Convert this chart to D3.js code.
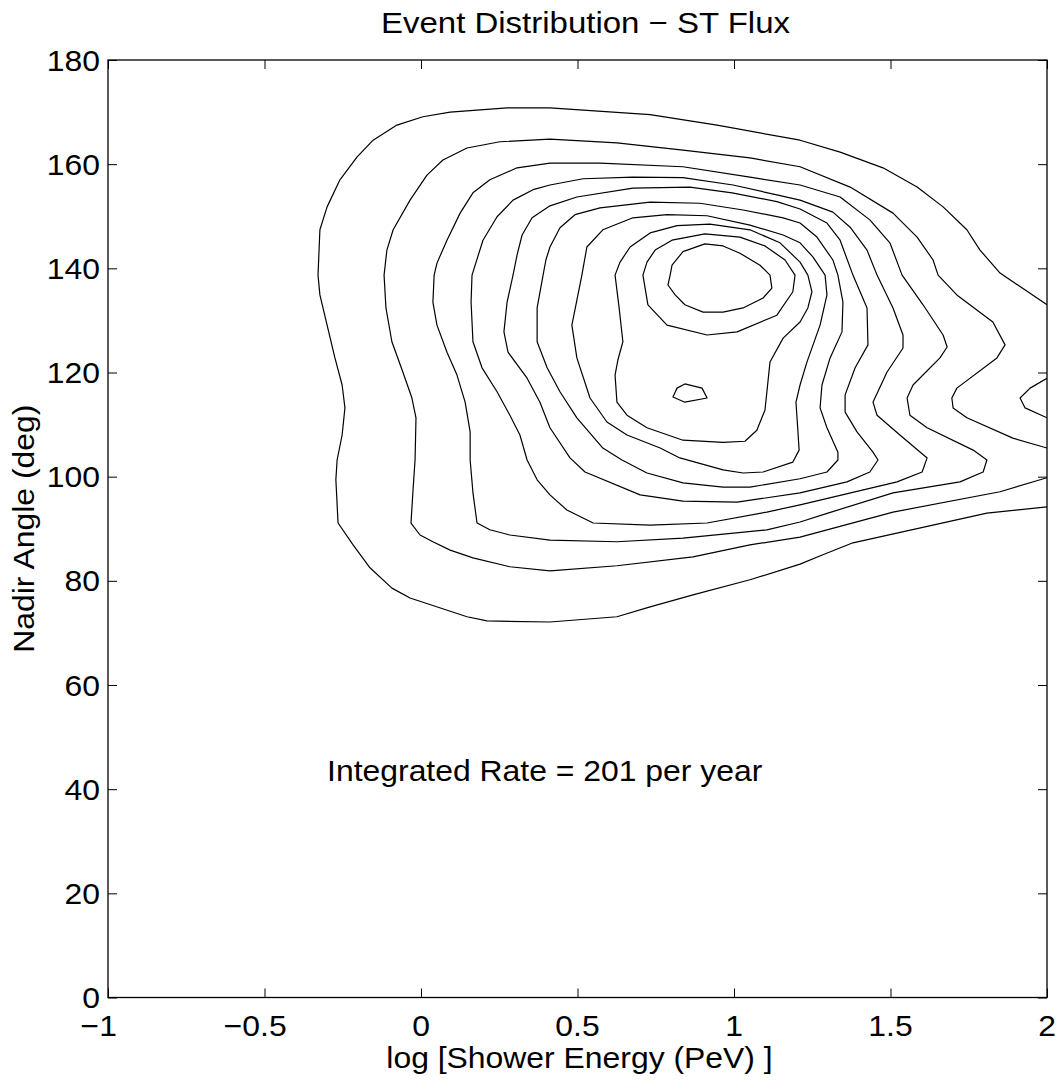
<!DOCTYPE html>
<html>
<head>
<meta charset="utf-8">
<script src="https://cdnjs.cloudflare.com/ajax/libs/d3/7.8.5/d3.min.js"></script>
<style>
  body { margin: 0; background: #fff; }
  text { font-family: "Liberation Sans", Arial, Helvetica, sans-serif; fill: #000; }
</style>
</head>
<body>
<div id="chart-area"></div>
<script>
// Event distribution contours (x = log10 shower energy in PeV, y = nadir angle in deg)

const xTicks = [-1, -0.5, 0, 0.5, 1, 1.5, 2];
const yTicks = [0, 20, 40, 60, 80, 100, 120, 140, 160, 180];

const titleText = "Event Distribution \u2212 ST Flux";
const xLabelText = "log [Shower Energy (PeV) ]";
const yLabelText = "Nadir Angle (deg)";
const noteText = "Integrated Rate = 201 per year";
const notePos = [-0.3, 41.6];

// contour levels, outermost (1) to innermost (10)
const level1 = [[2.0,133.0],[1.850,139.1],[1.786,143.5],[1.744,147.4],[1.668,151.8],[1.585,155.6],[1.476,159.3],[1.339,162.3],[1.211,164.6],[0.946,167.5],[0.732,169.5],[0.412,170.8],[0.275,170.8],[0.093,170.0],[0.006,169.1],[-0.077,167.5],[-0.153,164.6],[-0.204,161.4],[-0.259,157.0],[-0.300,151.8],[-0.323,147.4],[-0.329,138.7],[-0.323,134.9],[-0.300,129.1],[-0.275,122.8],[-0.252,117.6],[-0.243,113.2],[-0.252,108.0],[-0.268,103.2],[-0.272,99.4],[-0.265,91.1],[-0.217,86.9],[-0.163,82.5],[-0.093,78.6],[-0.035,76.7],[0.147,73.1],[0.211,72.3],[0.412,72.1],[0.626,73.1],[0.732,75.0],[0.869,77.3],[1.051,80.2],[1.211,83.2],[1.284,85.0],[1.380,87.3],[1.808,93.0],[2.0,94.2]];

const level2 = [[2.0,105.5],[1.891,107.4],[1.744,111.3],[1.700,113.2],[1.696,115.1],[1.712,117.0],[1.840,122.8],[1.866,125.3],[1.827,129.7],[1.712,134.9],[1.652,138.7],[1.636,141.6],[1.585,146.0],[1.508,150.6],[1.371,155.6],[1.211,159.5],[1.051,161.2],[0.837,162.7],[0.626,164.1],[0.412,164.8],[0.252,164.3],[0.147,163.1],[0.070,160.8],[0.019,157.9],[-0.035,153.1],[-0.089,147.4],[-0.109,143.5],[-0.118,138.7],[-0.112,132.4],[-0.093,125.9],[-0.058,120.1],[-0.029,115.1],[-0.016,111.3],[-0.019,103.2],[-0.026,96.9],[-0.032,91.1],[-0.003,88.8],[0.038,87.5],[0.093,85.9],[0.166,84.4],[0.284,82.7],[0.412,81.9],[0.626,82.9],[0.869,84.6],[1.051,86.9],[1.211,88.4],[1.508,93.2],[1.850,97.1],[2.0,99.8]];

const level2Edge = [[2.0,118.9],[1.946,117.0],[1.914,115.1],[1.930,113.2],[2.0,111.3]];

const level3 = [[1.211,156.0],[1.339,153.7],[1.434,149.3],[1.498,144.9],[1.537,138.7],[1.604,133.0],[1.668,127.2],[1.681,124.9],[1.658,122.8],[1.572,117.6],[1.553,115.1],[1.562,111.8],[1.617,109.4],[1.764,105.1],[1.808,103.2],[1.796,100.9],[1.722,99.0],[1.508,96.9],[1.300,93.0],[1.211,91.3],[1.105,89.8],[0.837,88.2],[0.626,87.5],[0.412,87.8],[0.284,88.8],[0.220,89.8],[0.179,91.1],[0.166,96.9],[0.157,103.2],[0.157,108.6],[0.141,114.3],[0.115,119.5],[0.083,123.9],[0.051,129.1],[0.038,133.5],[0.042,138.7],[0.051,141.0],[0.083,145.4],[0.125,150.6],[0.166,154.5],[0.220,157.0],[0.307,159.3],[0.412,160.2],[0.572,160.2],[0.837,159.5],[1.051,157.5]];

const level4 = [[0.412,156.0],[0.518,157.2],[0.677,157.5],[0.837,157.4],[0.997,156.0],[1.137,154.1],[1.211,153.1],[1.316,150.8],[1.371,147.9],[1.425,143.5],[1.457,138.7],[1.508,132.4],[1.540,127.2],[1.540,124.7],[1.489,120.1],[1.444,114.3],[1.457,111.8],[1.530,108.0],[1.617,103.6],[1.601,100.9],[1.521,99.0],[1.211,94.6],[1.105,93.2],[0.914,91.1],[0.732,90.7],[0.550,91.1],[0.466,93.6],[0.412,96.5],[0.371,99.4],[0.339,103.2],[0.316,108.0],[0.284,111.8],[0.243,116.3],[0.195,120.9],[0.166,125.9],[0.160,133.5],[0.163,138.7],[0.198,145.4],[0.243,149.9],[0.294,153.1],[0.358,155.1]];

const level5 = [[0.412,152.0],[0.498,153.7],[0.677,155.4],[0.859,155.6],[0.994,154.5],[1.137,152.8],[1.211,151.4],[1.297,148.7],[1.339,145.4],[1.380,138.7],[1.425,132.4],[1.428,125.3],[1.387,120.9],[1.355,115.7],[1.355,112.4],[1.393,108.6],[1.444,104.7],[1.460,103.2],[1.434,100.9],[1.361,99.0],[1.211,96.9],[1.010,95.1],[0.837,95.3],[0.700,96.5],[0.524,100.9],[0.476,103.6],[0.412,109.4],[0.380,114.3],[0.339,118.9],[0.278,123.9],[0.265,127.8],[0.275,133.5],[0.294,138.7],[0.307,142.6],[0.323,146.4],[0.355,149.7]];

const level6 = [[0.412,144.1],[0.444,147.8],[0.492,150.3],[0.572,151.6],[0.732,152.7],[0.891,152.5],[1.029,151.2],[1.157,149.7],[1.211,148.7],[1.265,146.0],[1.316,141.6],[1.332,138.7],[1.348,133.5],[1.345,127.8],[1.307,122.8],[1.281,117.6],[1.275,113.2],[1.297,109.4],[1.332,104.7],[1.332,103.2],[1.297,100.9],[1.211,99.6],[1.051,98.0],[0.965,98.0],[0.837,98.8],[0.722,100.7],[0.642,103.2],[0.581,105.5],[0.498,111.3],[0.444,116.3],[0.412,119.9],[0.403,120.9],[0.371,125.9],[0.371,132.4],[0.390,138.7],[0.399,141.6]];

const level7 = [[0.514,138.7],[0.530,144.1],[0.581,147.4],[0.677,149.7],[0.786,150.3],[0.914,150.1],[1.051,148.3],[1.157,146.4],[1.211,144.9],[1.252,142.2],[1.291,138.7],[1.297,134.9],[1.275,129.1],[1.233,122.0],[1.211,117.6],[1.198,114.3],[1.204,108.9],[1.208,105.1],[1.188,102.8],[1.093,100.9],[1.029,100.7],[0.965,101.3],[0.827,103.6],[0.764,105.5],[0.658,108.0],[0.594,110.5],[0.540,115.1],[0.498,122.8],[0.482,129.1]];

const level8 = [[0.620,138.7],[0.633,132.4],[0.645,125.9],[0.629,122.4],[0.620,119.5],[0.626,114.3],[0.658,111.8],[0.722,109.4],[0.837,107.0],[0.965,106.6],[1.035,106.8],[1.073,108.9],[1.099,112.8],[1.115,122.0],[1.157,126.6],[1.211,129.7],[1.236,132.4],[1.249,135.5],[1.236,138.7],[1.211,141.2],[1.147,144.9],[1.051,147.4],[0.923,148.5],[0.818,148.2],[0.732,146.8],[0.668,144.1],[0.636,141.2]];

const level9 = [[0.709,138.7],[0.725,133.0],[0.786,129.1],[0.914,127.2],[1.010,127.8],[1.137,131.0],[1.188,135.5],[1.195,138.7],[1.163,141.6],[1.099,144.3],[1.019,146.0],[0.907,146.6],[0.802,145.4],[0.748,143.5],[0.722,141.2]];

const level10 = [[0.796,138.7],[0.789,136.8],[0.812,134.9],[0.843,133.0],[0.901,131.6],[0.965,131.6],[1.029,132.4],[1.093,134.3],[1.121,136.2],[1.115,138.7],[1.083,140.6],[1.019,142.9],[0.965,144.3],[0.907,144.7],[0.837,143.2],[0.802,140.6]];

const level10Island = [[0.805,115.3],[0.818,117.0],[0.843,117.8],[0.898,117.0],[0.914,115.1],[0.843,114.3]];

// open curves run off the right edge, the rest are closed loops
const contours = [
	{ pts: level1, closed: false },
	{ pts: level2, closed: false },
	{ pts: level2Edge, closed: false },
	{ pts: level3, closed: true },
	{ pts: level4, closed: true },
	{ pts: level5, closed: true },
	{ pts: level6, closed: true },
	{ pts: level7, closed: true },
	{ pts: level8, closed: true },
	{ pts: level9, closed: true },
	{ pts: level10, closed: true },
	{ pts: level10Island, closed: true }
];

// Dimensions
const margin = { left: 108, right: 13, top: 60, bottom: 82.5 };
const width = 1060 - margin.left - margin.right;
const height = 1080 - margin.top - margin.bottom;
const fontSize = 29;
const stretch = 1.1; // glyphs in the reference are a bit wider than Arial

const svg = d3.select("#chart-area")
	.append("svg")
		.attr("width", 1060)
		.attr("height", 1080);

const chart = svg.append("g")
	.attr("transform", "translate(" + margin.left + ", " + margin.top + ")");

const xScale = d3.scaleLinear()
	.domain([-1, 2])
	.range([0, width]);

const yScale = d3.scaleLinear()
	.domain([0, 180])
	.range([height, 0]);

function addText(parent, x, y, str, anchor, size, rotate) {
	return parent.append("text")
		.attr("transform", "translate(" + x + "," + y + ")" + (rotate ? " rotate(" + rotate + ")" : "") + " scale(" + stretch + ",1)")
		.attr("text-anchor", anchor)
		.attr("font-size", size + "px")
		.text(str);
}

// Contours
svg.append("clipPath").attr("id", "plot-clip")
	.append("rect").attr("width", width).attr("height", height);

const line = d3.line()
	.x(d => xScale(d[0]))
	.y(d => yScale(d[1]));

chart.append("g")
	.attr("clip-path", "url(#plot-clip)")
	.selectAll("path")
	.data(contours)
	.enter()
	.append("path")
		.attr("d", d => line(d.pts) + (d.closed ? "Z" : ""))
		.attr("fill", "none")
		.attr("stroke", "#000")
		.attr("stroke-width", 1.2)
		.attr("stroke-linejoin", "round");

// Ticks on all four sides, pointing in
const tickLen = 9;
chart.append("g").attr("transform", "translate(0," + height + ")")
	.call(d3.axisBottom(xScale).tickValues(xTicks).tickSizeInner(-tickLen).tickSizeOuter(0).tickFormat(""));
chart.append("g")
	.call(d3.axisTop(xScale).tickValues(xTicks).tickSizeInner(-tickLen).tickSizeOuter(0).tickFormat(""));
chart.append("g")
	.call(d3.axisLeft(yScale).tickValues(yTicks).tickSizeInner(-tickLen).tickSizeOuter(0).tickFormat(""));
chart.append("g").attr("transform", "translate(" + width + ",0)")
	.call(d3.axisRight(yScale).tickValues(yTicks).tickSizeInner(-tickLen).tickSizeOuter(0).tickFormat(""));
chart.selectAll(".domain").remove();
chart.selectAll(".tick line").attr("stroke", "#000").attr("stroke-width", 1);

chart.append("rect")
	.attr("width", width)
	.attr("height", height)
	.attr("fill", "none")
	.attr("stroke", "#000")
	.attr("stroke-width", 1.3);

// Tick labels. MATLAB centres the digits and lets the minus hang left
xTicks.forEach(v => {
	const x = xScale(v);
	const t = addText(chart, x, height + 38, String(Math.abs(v)), "middle", fontSize);
	if (v < 0) {
		const w = t.node().getComputedTextLength() * stretch;
		addText(chart, x - w / 2, height + 38, "\u2212", "end", fontSize);
	}
});

yTicks.forEach(v => {
	addText(chart, -8, yScale(v) + 10.5, String(v), "end", fontSize);
});

// Title and labels
addText(chart, width / 2 + 8, -27, titleText, "middle", 30);
addText(chart, width / 2 + 2, height + 70.5, xLabelText, "middle", fontSize);
addText(chart, -74, height / 2, yLabelText, "middle", fontSize, -90);

// Annotation
addText(chart, xScale(notePos[0]), yScale(notePos[1]), noteText, "start", fontSize);
</script>
</body>
</html>
